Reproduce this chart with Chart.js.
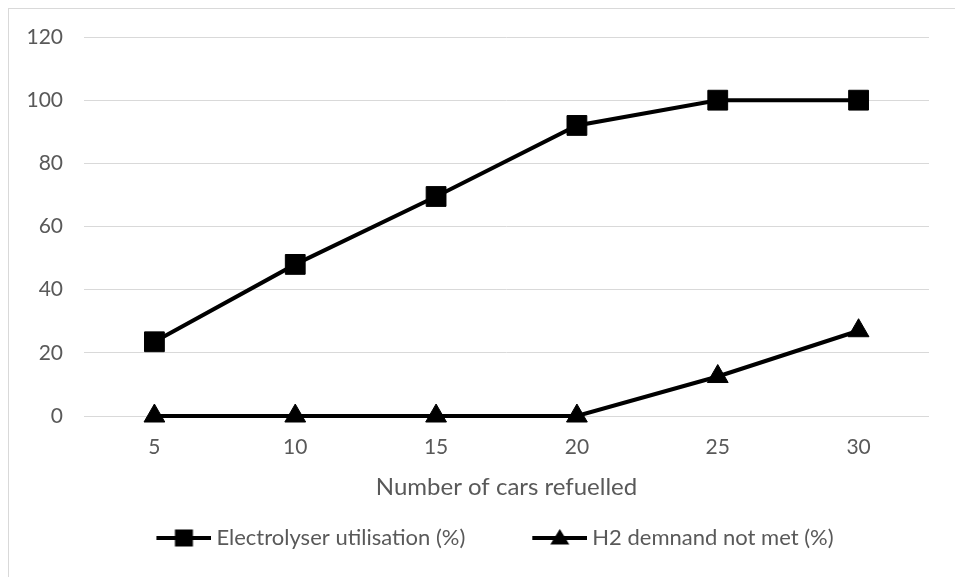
<!DOCTYPE html>
<html>
<head>
<meta charset="utf-8">
<script src="https://cdn.jsdelivr.net/npm/chart.js@4.4.1/dist/chart.umd.min.js"></script>
<style>
  html, body { margin: 0; padding: 0; background: #fff; overflow: hidden; }
  #wrap { position: relative; width: 955px; height: 577px; }
  #frame { position: absolute; left: 8px; top: 8px; width: 1000px; height: 1000px; border: 1px solid #d9d9d9; box-sizing: border-box; }
  canvas { position: absolute; left: 0; top: 0; }
</style>
</head>
<body>
<div id="wrap">
  <div id="frame"></div>
  <canvas id="c" width="955" height="577"></canvas>
</div>
<script>
const categories = ['5', '10', '15', '20', '25', '30'];
const electrolyserUtilisation = [23.5, 48, 69.5, 92, 100, 100];
const h2DemandNotMet = [0, 0, 0, 0, 12.5, 27];
const seriesLabels = ['Electrolyser utilisation (%)', 'H2 demnand not met (%)'];
const xAxisTitle = 'Number of cars refuelled';
const yMin = 0, yMax = 120, yStep = 20;

const FONT = 'Lato, "Open Sans", sans-serif';
const TEXT = '#595959';

function legendImage(shape) {
  const W = 118, H = 24;
  const cv = document.createElement('canvas');
  cv.width = W; cv.height = H;
  const g = cv.getContext('2d');
  const x0 = 63, x1 = 118, cy = H / 2, cx = (x0 + x1) / 2;
  g.strokeStyle = '#000'; g.lineWidth = 4;
  g.beginPath(); g.moveTo(x0, cy); g.lineTo(x1, cy); g.stroke();
  g.fillStyle = '#000';
  if (shape === 'rect') {
    g.fillRect(cx - 9, cy - 8.5, 18, 17);
  } else {
    g.beginPath();
    g.moveTo(cx, cy - 9); g.lineTo(cx + 9.5, cy + 6.5); g.lineTo(cx - 9.5, cy + 6.5); g.closePath(); g.fill();
  }
  return cv;
}
const legendImgs = [legendImage('rect'), legendImage('triangle')];

new Chart(document.getElementById('c'), {
  type: 'line',
  data: {
    labels: categories,
    datasets: [
      {
        label: seriesLabels[0], data: electrolyserUtilisation,
        borderColor: '#000', backgroundColor: '#000', borderWidth: 4,
        pointStyle: 'rect', pointRadius: 14, pointBorderWidth: 1,
        pointBackgroundColor: '#000', pointBorderColor: '#000', tension: 0, clip: false
      },
      {
        label: seriesLabels[1], data: h2DemandNotMet,
        borderColor: '#000', backgroundColor: '#000', borderWidth: 4,
        pointStyle: 'triangle', pointRadius: 12, pointBorderWidth: 1,
        pointBackgroundColor: '#000', pointBorderColor: '#000', tension: 0, clip: false
      }
    ]
  },
  options: {
    responsive: false,
    animation: false,
    devicePixelRatio: 1,
    layout: { padding: { left: 4, right: 26, top: 37, bottom: 18 } },
    plugins: {
      tooltip: { enabled: false },
      legend: {
        position: 'bottom',
        labels: {
          usePointStyle: true,
          pointStyleWidth: 106,
          padding: 10,
          color: TEXT,
          font: { family: FONT, size: 22 },
          generateLabels(chart) {
            return chart.data.datasets.map((d, i) => ({
              text: d.label, pointStyle: legendImgs[i], fontColor: TEXT,
              datasetIndex: i, hidden: false, lineWidth: 0
            }));
          }
        }
      }
    },
    scales: {
      x: {
        offset: true,
        grid: { display: false },
        border: { display: false },
        ticks: { color: TEXT, font: { family: FONT, size: 21 }, padding: 11 },
        title: { display: true, text: xAxisTitle, color: TEXT, font: { family: FONT, size: 24 }, padding: { top: 0, bottom: 15 } },
        afterFit(s) { s.height = 101; }
      },
      y: {
        min: yMin, max: yMax,
        grid: { color: '#d9d9d9', lineWidth: 1, drawTicks: false },
        border: { display: false },
        ticks: { stepSize: yStep, color: TEXT, font: { family: FONT, size: 21 }, padding: 21 },
        afterFit(s) { s.width = 80; }
      }
    }
  }
});
</script>
</body>
</html>
